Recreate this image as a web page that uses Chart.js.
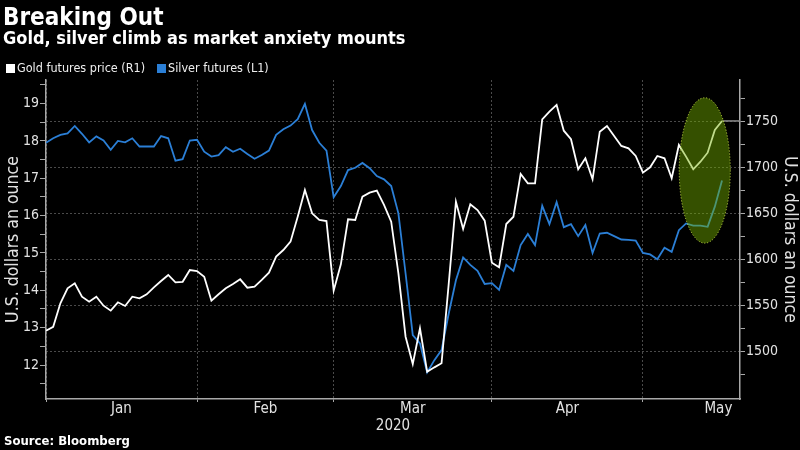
<!DOCTYPE html>
<html>
<head>
<meta charset="utf-8">
<script src="https://cdn.jsdelivr.net/npm/chart.js@4"></script>
<style>
  html, body { margin: 0; padding: 0; background: #000; }
  #wrap { position: relative; width: 800px; height: 450px; background: #000; overflow: hidden;
    font-family: 'DejaVu Sans Condensed', 'DejaVu Sans', sans-serif; color: #fff; }
  #chart { position: absolute; left: 0; top: 0; }
  .head { position: absolute; left: 3px; white-space: nowrap; font-weight: bold; }
  #title { top: 5px; font-size: 24px; line-height: 24px; }
  #subtitle { top: 29px; font-size: 18px; line-height: 18px; }
  #legend { position: absolute; left: 6px; top: 62px; font-size: 12.5px; line-height: 12px; color: #eee; display: flex; white-space: nowrap; }
  #legend span.item { display: flex; align-items: center; margin-right: 12px; }
  #legend i { display: inline-block; width: 9px; height: 9px; margin-right: 2px; }
  #source { position: absolute; left: 4px; top: 434px; font-size: 13px; line-height: 13px; font-weight: bold; color: #fff; }
</style>
</head>
<body>
<div id="wrap">
  <canvas id="chart" width="800" height="450"></canvas>
  <div id="title" class="head">Breaking Out</div>
  <div id="subtitle" class="head">Gold, silver climb as market anxiety mounts</div>
  <div id="legend"></div>
  <div id="source">Source: Bloomberg</div>
</div>
<script>
// x is the trading-session index, 0 = 2 Jan 2020
const monthLabels = ['Jan', 'Feb', 'Mar', 'Apr', 'May'];
const monthStarts = [0, 21, 40, 62, 83];
const monthCentres = [10.5, 30.5, 51, 72.5, 93.5];
const silverLabels = [12, 13, 14, 15, 16, 17, 18, 19];
const goldLabels = [1500, 1550, 1600, 1650, 1700, 1750];

const goldFutures = [
  1522.8, 1527.0, 1552.6, 1568.9, 1574.3, 1559.8, 1554.3, 1559.8, 1550.0, 1544.6,
  1553.7, 1549.7, 1559.8, 1558.0, 1562.4, 1570.0, 1576.8, 1583.4, 1575.4, 1576.0,
  1588.8, 1587.7, 1581.5, 1555.4, 1562.4, 1568.9, 1573.6, 1578.7, 1569.6, 1570.7,
  1578.0, 1585.9, 1603.3, 1610.5, 1619.6, 1646.7, 1675.8, 1650.4, 1643.2, 1642.0,
  1566.3, 1595.0, 1643.9, 1643.2, 1668.5, 1672.8, 1675.0, 1659.5, 1641.3, 1585.2,
  1516.3, 1486.6, 1525.4, 1478.3, 1483.0, 1487.4, 1574.0, 1663.0, 1633.4, 1660.2,
  1654.0, 1642.4, 1596.7, 1591.7, 1638.8, 1646.7, 1693.2, 1683.0, 1683.0, 1752.6,
  1760.9, 1768.2, 1740.2, 1730.9, 1698.3, 1710.2, 1687.4, 1739.1, 1745.3, 1734.5,
  1723.6, 1721.0, 1712.7, 1694.6, 1700.4, 1712.7, 1710.2, 1688.5, 1724.7, 1712.0,
  1698.3, 1706.5, 1716.3, 1741.0, 1750.8
];
const silverFutures = [
  17.95, 18.07, 18.16, 18.20, 18.40, 18.19, 17.96, 18.12, 18.01, 17.76,
  18.00, 17.96, 18.07, 17.85, 17.85, 17.85, 18.13, 18.07, 17.47, 17.51,
  18.01, 18.03, 17.71, 17.58, 17.62, 17.83, 17.71, 17.79, 17.65, 17.52,
  17.62, 17.74, 18.16, 18.31, 18.41, 18.58, 18.99, 18.29, 17.95, 17.74,
  16.49, 16.79, 17.22, 17.28, 17.41, 17.27, 17.06, 16.97, 16.79, 16.06,
  14.45, 12.80, 12.58, 11.80, 12.13, 12.40, 13.38, 14.27, 14.88, 14.68,
  14.52, 14.17, 14.19, 14.01, 14.68, 14.52, 15.21, 15.51, 15.21, 16.26,
  15.77, 16.36, 15.69, 15.77, 15.45, 15.75, 15.00, 15.52, 15.54, 15.45,
  15.36, 15.35, 15.33, 15.00, 14.96, 14.83, 15.14, 15.03, 15.61, 15.79,
  15.73, 15.73, 15.70, 16.24, 16.94
];

// green oval around the latest moves, in data units
const ovalCentreDay = 91.6;
const ovalHalfDays = 3.55;
const ovalCentreGold = 1697;
const ovalHalfGold = 79;

const goldColor = '#ffffff';
const silverColor = '#2b7fd6';
const gridColor = '#4a4a4a';
const axisColor = '#a8a8a8';
const textColor = '#e2e2e2';
const fontFamily = "'DejaVu Sans Condensed', 'DejaVu Sans', sans-serif";

// html legend
document.getElementById('legend').innerHTML =
  '<span class="item"><i style="background:' + goldColor + '"></i>Gold futures price (R1)</span>' +
  '<span class="item"><i style="background:' + silverColor + '"></i>Silver futures (L1)</span>';

const ovalPlugin = {
  id: 'oval',
  afterDatasetsDraw(chart) {
    const { ctx, scales: { x, gold }, chartArea } = chart;
    // last price marker line to the right axis
    const last = goldFutures.length - 1;
    const lx = x.getPixelForValue(last);
    const ly = gold.getPixelForValue(goldFutures[last]);
    ctx.save();
    ctx.strokeStyle = '#8c8c8c';
    ctx.lineWidth = 1.5;
    ctx.beginPath();
    ctx.moveTo(lx, ly);
    ctx.lineTo(chartArea.right, ly);
    ctx.stroke();

    const cx = x.getPixelForValue(ovalCentreDay);
    const cy = gold.getPixelForValue(ovalCentreGold);
    const rx = x.getPixelForValue(ovalCentreDay + ovalHalfDays) - cx;
    const ry = gold.getPixelForValue(ovalCentreGold - ovalHalfGold) - cy;
    ctx.beginPath();
    ctx.ellipse(cx, cy, rx, ry, 0, 0, Math.PI * 2);
    ctx.fillStyle = 'rgba(118, 178, 0, 0.45)';
    ctx.fill();
    ctx.setLineDash([1, 2]);
    ctx.strokeStyle = '#cde34a';
    ctx.lineWidth = 1;
    ctx.stroke();
    ctx.restore();
  }
};

Chart.defaults.font.family = fontFamily;
Chart.defaults.color = textColor;

new Chart(document.getElementById('chart'), {
  type: 'line',
  data: {
    datasets: [
      {
        label: 'Gold futures price (R1)',
        data: goldFutures.map((v, i) => ({ x: i, y: v })),
        yAxisID: 'gold',
        borderColor: goldColor,
        borderWidth: 1.8,
        pointRadius: 0,
        tension: 0
      },
      {
        label: 'Silver futures (L1)',
        data: silverFutures.map((v, i) => ({ x: i, y: v })),
        yAxisID: 'silver',
        borderColor: silverColor,
        borderWidth: 1.8,
        pointRadius: 0,
        tension: 0
      }
    ]
  },
  options: {
    responsive: false,
    animation: false,
    devicePixelRatio: 1,
    layout: { padding: { top: 80, left: 0, right: 0, bottom: 0 } },
    plugins: { legend: { display: false }, tooltip: { enabled: false } },
    scales: {
      x: {
        type: 'linear',
        min: 0,
        max: 96.5,
        afterBuildTicks: (s) => {
          s.ticks = monthStarts.concat(monthCentres).sort((a, b) => a - b).map(v => ({ value: v }));
        },
        afterFit: (s) => { s.height = 51; },
        ticks: {
          autoSkip: false,
          maxRotation: 0,
          padding: 0,
          color: textColor,
          font: { size: 15, lineHeight: 1 },
          callback: (v) => {
            const k = monthCentres.indexOf(v);
            return k >= 0 ? monthLabels[k] : '';
          }
        },
        grid: {
          color: (c) => c.tick && monthStarts.includes(c.tick.value) ? gridColor : 'transparent',
          tickColor: (c) => c.tick && monthStarts.includes(c.tick.value) ? axisColor : 'transparent',
          tickLength: 3
        },
        border: { color: axisColor, width: 1.5, dash: [2, 2] },
        title: { display: true, text: '2020', color: textColor, font: { size: 15, lineHeight: 1 }, padding: { top: 0, bottom: 16 } }
      },
      silver: {
        type: 'linear',
        position: 'left',
        min: 11.09,
        max: 19.63,
        afterBuildTicks: (s) => {
          s.ticks = silverLabels.flatMap(v => [v - 0.5, v]).concat(silverLabels[silverLabels.length - 1] + 0.5).map(v => ({ value: v }));
        },
        afterFit: (s) => { s.width = 46; },
        ticks: {
          padding: 1,
          color: textColor,
          font: { size: 14 },
          callback: (v) => silverLabels.includes(v) ? String(v) : ''
        },
        grid: { drawOnChartArea: false, tickColor: axisColor, tickLength: 6 },
        border: { color: axisColor, width: 1.5 },
        title: { display: true, text: 'U.S. dollars an ounce', color: textColor, font: { size: 17.5 }, padding: { top: 3, bottom: 0 } }
      },
      gold: {
        type: 'linear',
        position: 'right',
        min: 1448.6,
        max: 1795.3,
        afterBuildTicks: (s) => {
          s.ticks = goldLabels.flatMap(v => [v - 25, v]).concat(goldLabels[goldLabels.length - 1] + 25).map(v => ({ value: v }));
        },
        afterFit: (s) => { s.width = 60; },
        ticks: {
          padding: 1,
          color: textColor,
          font: { size: 14 },
          callback: (v) => goldLabels.includes(v) ? String(v) : ''
        },
        grid: {
          color: (c) => c.tick && goldLabels.includes(c.tick.value) ? gridColor : 'transparent',
          tickColor: axisColor,
          tickLength: 5
        },
        border: { color: axisColor, width: 1.5, dash: [2, 2] },
        title: { display: true, text: 'U.S. dollars an ounce', color: textColor, font: { size: 17.5 }, padding: { top: 0, bottom: 0 } }
      }
    }
  },
  plugins: [ovalPlugin]
});
</script>
</body>
</html>
